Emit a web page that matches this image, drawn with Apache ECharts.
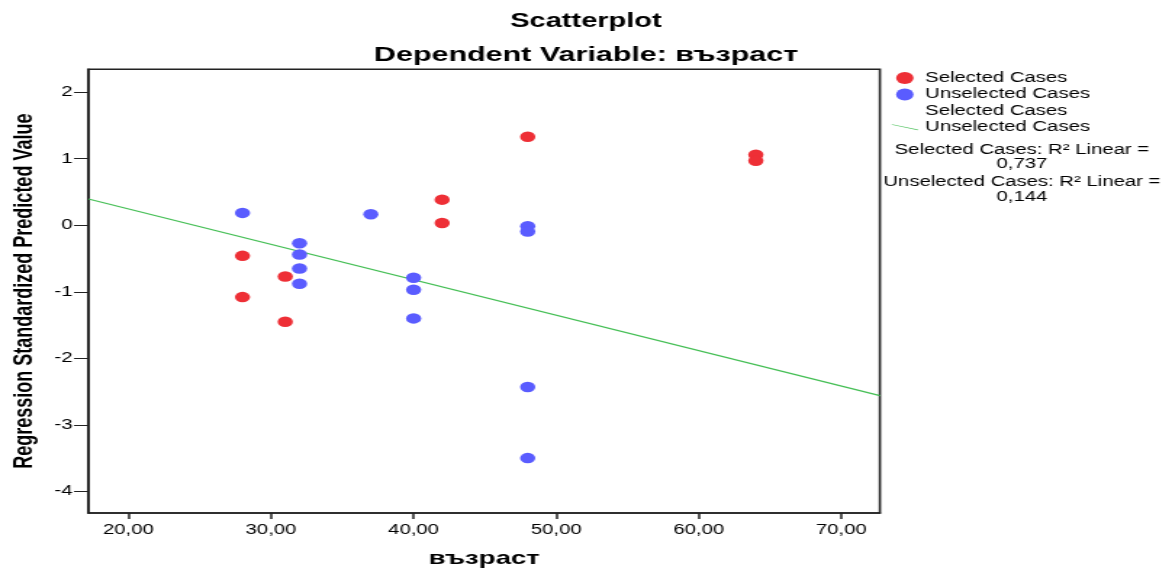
<!DOCTYPE html>
<html>
<head>
<meta charset="utf-8">
<script src="https://cdn.jsdelivr.net/npm/echarts@6/dist/echarts.min.js"></script>
<style>
html,body{margin:0;padding:0;background:#fff;overflow:hidden;width:1172px;height:573px;}
#chart{width:808px;height:573px;transform:scaleX(1.4505);transform-origin:0 0;}
</style>
</head>
<body>
<div id="chart"></div>
<script>
// ---- data ----
var selectedAge = [28, 28, 31, 31, 42, 42, 48, 64, 64];
var selectedPred = [-0.46, -1.08, -0.77, -1.45, 0.385, 0.035, 1.33, 1.06, 0.97];
var unselectedAge = [28, 37, 32, 32, 32, 32, 40, 40, 40, 48, 48, 48, 48];
var unselectedPred = [0.186, 0.165, -0.27, -0.44, -0.65, -0.88, -0.79, -0.97, -1.40, -0.015, -0.094, -2.43, -3.50];
var fitAge = [17.2, 72.7];
var fitPred = [0.395, -2.56];
var xTicks = [20, 30, 40, 50, 60, 70];
var yTicks = [-4, -3, -2, -1, 0, 1, 2];
var xRange = [17.2, 72.7];
var yRange = [-4.325, 2.344];
var r2Lines = ['Selected Cases: R\u00B2 Linear =', '0,737', 'Unselected Cases: R\u00B2 Linear =', '0,144'];

function pairs(xs, ys) { return xs.map(function (x, i) { return [x, ys[i]]; }); }

var FONT = '"Liberation Sans", Arial, sans-serif';
var chart = echarts.init(document.getElementById('chart'), null, {renderer: 'canvas'});

var r2Y = [150, 164.5, 182, 197];
var graphics = r2Lines.map(function (t, i) {
  return {
    type: 'text', x: 704.5, y: r2Y[i],
    style: {text: t, fill: '#000', font: '14px ' + FONT, textAlign: 'center', textVerticalAlign: 'middle'}
  };
});

chart.setOption({
  animation: false,
  backgroundColor: '#fff',
  title: [
    {text: 'Scatterplot', left: 'center', top: 6,
     textStyle: {fontFamily: FONT, fontSize: 20, fontWeight: 'bold', color: '#000'}},
    {text: 'Dependent Variable: възраст', left: 'center', top: 40,
     textStyle: {fontFamily: FONT, fontSize: 21, fontWeight: 'bold', color: '#000'}}
  ],
  grid: {left: 60.9, right: 201.4, top: 69.3, bottom: 58, show: true,
         borderColor: '#222', borderWidth: 1.6, backgroundColor: '#fff'},
  legend: {
    orient: 'vertical', left: 609.8, top: 65, itemWidth: 18, itemHeight: 12, itemGap: 0.4,
    selectedMode: false,
    textStyle: {fontFamily: FONT, fontSize: 14, color: '#000', lineHeight: 16},
    formatter: function (n) { return n.replace(' fit', ''); },
    data: [
      {name: 'Selected Cases', icon: 'circle'},
      {name: 'Unselected Cases', icon: 'circle'},
      {name: 'Selected Cases fit', icon: 'rect', itemStyle: {opacity: 0, color: 'rgba(0,0,0,0)'}},
      {name: 'Unselected Cases fit', icon: 'path://M0,0 L30,9 L30,10.2 L0,1.2 Z'}
    ]
  },
  xAxis: {
    type: 'value', min: xRange[0], max: xRange[1],
    name: 'възраст', nameLocation: 'middle', nameGap: 36,
    nameTextStyle: {fontFamily: FONT, fontSize: 19, fontWeight: 'bold', color: '#000'},
    axisLine: {show: true, onZero: false, lineStyle: {color: '#222', width: 1.6}},
    axisTick: {show: true, length: 6, customValues: xTicks, lineStyle: {color: '#222', width: 1.5}},
    axisLabel: {customValues: xTicks, margin: 10, fontFamily: FONT, fontSize: 14, color: '#000',
                formatter: function (v) { return v.toFixed(2).replace('.', ','); }},
    splitLine: {show: false}
  },
  yAxis: {
    type: 'value', min: yRange[0], max: yRange[1],
    name: 'Regression Standardized Predicted Value', nameLocation: 'middle', nameGap: 35,
    nameTextStyle: {fontFamily: FONT, fontSize: 18, fontWeight: 'bold', color: '#000'},
    axisLine: {show: true, onZero: false, lineStyle: {color: '#222', width: 1.6}},
    axisTick: {show: true, length: 10, customValues: yTicks, lineStyle: {color: '#222', width: 1}},
    axisLabel: {customValues: yTicks, margin: 11, fontFamily: FONT, fontSize: 14, color: '#000',
                formatter: function (v) { return String(v); }},
    splitLine: {show: false}
  },
  series: [
    {name: 'Selected Cases', type: 'scatter', symbol: 'circle', symbolSize: 10.5,
     itemStyle: {color: '#EE2F36', opacity: 1}, data: pairs(selectedAge, selectedPred), z: 3},
    {name: 'Unselected Cases', type: 'scatter', symbol: 'circle', symbolSize: 10.5,
     itemStyle: {color: '#5A5CFF', opacity: 1}, data: pairs(unselectedAge, unselectedPred), z: 3},
    {name: 'Selected Cases fit', type: 'line', data: [], showSymbol: false,
     itemStyle: {color: 'rgba(0,0,0,0)'}, lineStyle: {color: 'rgba(0,0,0,0)'}},
    {name: 'Unselected Cases fit', type: 'line', data: pairs(fitAge, fitPred), showSymbol: false,
     symbol: 'none', itemStyle: {color: '#45BF55'}, lineStyle: {color: '#45BF55', width: 1.2}, z: 2}
  ],
  graphic: graphics
});
</script>
</body>
</html>
